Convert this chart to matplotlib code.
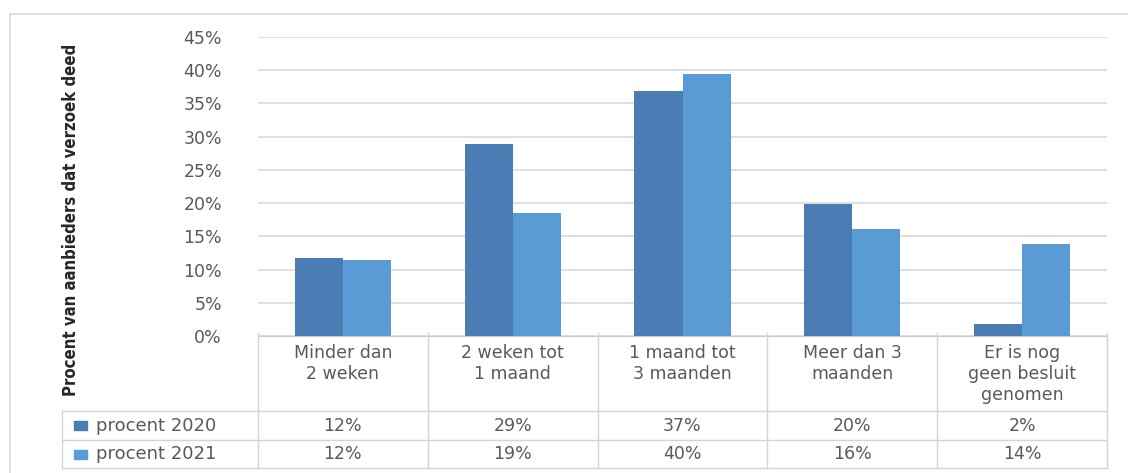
import matplotlib
matplotlib.use("Agg")
import matplotlib.pyplot as plt
from matplotlib.patches import Rectangle

# data
categories = ["Minder dan\n2 weken", "2 weken tot\n1 maand", "1 maand tot\n3 maanden",
              "Meer dan 3\nmaanden", "Er is nog\ngeen besluit\ngenomen"]
series_names = ["procent 2020", "procent 2021"]
bars_2020 = [11.8, 28.9, 36.9, 19.9, 1.8]
bars_2021 = [11.4, 18.5, 39.4, 16.1, 13.8]
table_2020 = ["12%", "29%", "37%", "20%", "2%"]
table_2021 = ["12%", "19%", "40%", "16%", "14%"]
yticks = [0, 5, 10, 15, 20, 25, 30, 35, 40, 45]

colors = ["#4a7db3", "#5b9bd5"]
grey_txt = "#595959"
line_c = "#d4d4d4"

W, H = 1128, 473
fig = plt.figure(figsize=(W / 100, H / 100), dpi=100)

# pixel geometry of the plot area
left, right, top, bottom = 258, 1107, 37, 336
ax = fig.add_axes([left / W, 1 - bottom / H, (right - left) / W, (bottom - top) / H])

n = len(categories)
x = list(range(n))
bw = 0.283
ax.bar([i - bw / 2 for i in x], bars_2020, width=bw, color=colors[0], zorder=3)
ax.bar([i + bw / 2 for i in x], bars_2021, width=bw, color=colors[1], zorder=3)

ax.set_xlim(-0.5, n - 0.5)
ax.set_ylim(0, 45)
ax.set_yticks(yticks)
ax.set_yticklabels([f"{t}%" for t in yticks], color=grey_txt, fontsize=12.5)
ax.tick_params(axis="y", length=0, pad=26)
ax.set_xticks([])
ax.yaxis.grid(True, color="#d9d9d9", lw=1.2, zorder=0)
for s in ["top", "right", "left"]:
    ax.spines[s].set_visible(False)
ax.spines["bottom"].set_color("#c8c8c8")

# overlay in pixel coordinates for the data table and border
tab = fig.add_axes([0, 0, 1, 1], facecolor="none")
tab.set_xlim(0, W)
tab.set_ylim(H, 0)
tab.axis("off")

tab.plot([10, 10], [14, H], color="#d9d9d9", lw=1.2)
tab.plot([10, W], [14, 14], color="#d9d9d9", lw=1.2)

col_w = (right - left) / n
edges = [left + i * col_w for i in range(n + 1)]
row_top, row1, row2, row_end = 337, 411, 440, 468
leg_left = 62

for xe in edges:
    tab.plot([xe, xe], [row_top - 4, row_end], color=line_c, lw=1)
for yr in [row1, row2, row_end]:
    tab.plot([leg_left, right], [yr, yr], color=line_c, lw=1)
tab.plot([leg_left, leg_left], [row1, row_end], color=line_c, lw=1)

for i, cat in enumerate(categories):
    cx = edges[i] + col_w / 2
    tab.text(cx, 344, cat, ha="center", va="top", fontsize=12.5, color=grey_txt,
             linespacing=1.2)
    tab.text(cx, (row1 + row2) / 2, table_2020[i], ha="center", va="center",
             fontsize=12.5, color=grey_txt)
    tab.text(cx, (row2 + row_end) / 2, table_2021[i], ha="center", va="center",
             fontsize=12.5, color=grey_txt)

for k, (name, yr0, yr1) in enumerate([(series_names[0], row1, row2),
                                      (series_names[1], row2, row_end)]):
    yc = (yr0 + yr1) / 2
    tab.add_patch(Rectangle((74, yc - 4.5), 13, 9, color=colors[k]))
    tab.text(96, yc, name, ha="left", va="center", fontsize=13, color=grey_txt)

fig.text(71 / W, 1 - 220 / H, "Procent van aanbieders dat verzoek deed",
         rotation=90, ha="center", va="center", fontsize=12, fontweight="bold",
         fontstretch="condensed", family=["DejaVu Sans"], color="#262626")

fig.savefig("out.png", dpi=100)
